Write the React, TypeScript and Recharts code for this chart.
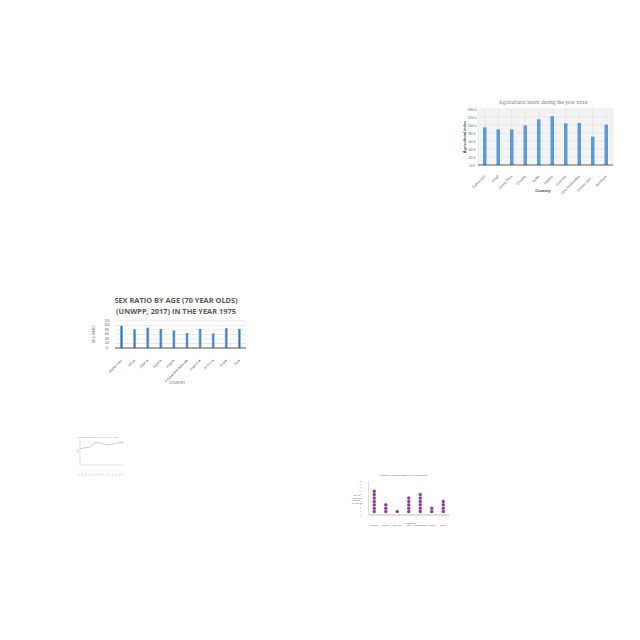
import React from 'react';
import {
  BarChart, Bar, XAxis, YAxis, CartesianGrid, LineChart, Line, ScatterChart, Scatter,
} from 'recharts';

// ---- Chart 1: Agricultural index ----
const agriCountries = ['Cameroon', 'Chad', 'Costa Rica', 'Croatia', 'Cuba', 'Cyprus', 'Czechia', 'Czechoslovakia', 'Democratic...', 'Denmark'];
const agriValues = [94, 89, 89, 99, 114, 122, 104, 105, 71, 101];
const agriTicks = [0, 20, 40, 60, 80, 100, 120, 140];

// ---- Chart 2: Sex ratio ----
const sexCountries = ['Afghanistan', 'Africa', 'Albania', 'Algeria', 'Angola', 'Antigua and Barbuda', 'Argentina', 'Armenia', 'Aruba', 'Asia'];
const sexValues = [98, 83, 91, 85, 78, 67, 85, 65, 88, 85];
const sexTicks = [0, 20, 40, 60, 80, 100, 120];

// ---- Chart 3: small line chart ----
const lineLabels = ['1961', '1965', '1969', '1973', '1977', '1981', '1985', '1989', '1993', '1997', '2001', '2005', '2009', '2013'];
const lineValues = [63, 65, 67, 69, 80, 87, 85, 80, 78, 80, 82, 85, 87, 88];

// ---- Chart 4: dot plot ----
const dotPlaces = ['Mussoorie', 'Nainital', 'Darjeeling', 'Ooty', 'Mahabaleshwar', 'Munnar', 'Shimla'];
const dotCounts = [7, 3, 1, 5, 6, 2, 4];
const dotTicks = [0, 1, 2, 3, 4, 5, 6, 7, 8, 9, 10];

const agriData = agriCountries.map((c, i) => ({ name: c, value: agriValues[i] }));
const sexData = sexCountries.map((c, i) => ({ name: c, value: sexValues[i] }));
const lineData = lineLabels.map((l, i) => ({ name: l, value: lineValues[i] }));
const dotData: { x: number; y: number }[] = [];
dotCounts.forEach((n, i) => {
  for (let k = 1; k <= n; k++) dotData.push({ x: i, y: k });
});

type TxtProps = {
  x: number; y: number; size: number; color?: string; weight?: number | string;
  family?: string; rotate?: number; children: React.ReactNode; lineHeight?: number;
};
const Txt = ({ x, y, size, color = '#595959', weight = 400, family = 'Liberation Sans, Arial, sans-serif', rotate = 0, children, lineHeight }: TxtProps) => (
  <div
    style={{
      position: 'absolute', left: x, top: y, transform: `translate(-50%, -50%) rotate(${rotate}deg)`,
      fontSize: size, color, fontWeight: weight as any, fontFamily: family, whiteSpace: 'pre', textAlign: 'center',
      lineHeight: lineHeight ? `${lineHeight}px` : 1.15,
    }}
  >
    {children}
  </div>
);

const makeTick = (size: number, color: string, angle: number, dy: number, fmt?: (v: any) => string) => (props: any) => {
  const { x, y, payload } = props;
  const label = fmt ? fmt(payload.value) : String(payload.value);
  return (
    <g transform={`translate(${x},${y + dy})`}>
      <text
        x={0} y={0} fontSize={size} fill={color} fontFamily="Liberation Sans, Arial, sans-serif"
        textAnchor={angle ? 'end' : 'middle'} dominantBaseline={angle ? 'central' : 'hanging'}
        transform={angle ? `rotate(${angle})` : undefined}
      >
        {label}
      </text>
    </g>
  );
};

const Dot = (props: any) => (
  <circle cx={props.cx} cy={props.cy} r={1.5} fill="#8e3a96" stroke="#6a2472" strokeWidth={0.3} />
);

export default function App() {
  return (
    <div style={{ position: 'absolute', left: 0, top: 0, width: 640, height: 640, background: '#ffffff', overflow: 'hidden' }}>
      {/* Chart 1 */}
      <div style={{ position: 'absolute', left: 460, top: 95 }}>
        <BarChart width={160} height={105} data={agriData} margin={{ top: 14, right: 7, left: 8, bottom: 10 }}>
          <CartesianGrid fill="#f3f3f3" stroke="#dcdcdc" strokeWidth={0.5} />
          <XAxis
            dataKey="name" interval={0} height={25} tickLine={false}
            axisLine={{ stroke: '#404040', strokeWidth: 0.8 }}
            tick={makeTick(3.6, '#595959', -45, 3)}
          />
          <YAxis
            width={10} domain={[0, 140]} ticks={agriTicks} interval={0} tickLine={false} axisLine={false}
            tick={makeTick(3.6, '#595959', 0, 0, (v: number) => v.toFixed(1))}
            tickMargin={0}
          />
          <Bar dataKey="value" fill="#5b9bd5" barSize={3.5} isAnimationActive={false} />
        </BarChart>
      </div>
      <Txt x={543} y={101.5} size={5.6} family="Liberation Serif, serif" color="#7f7f7f">Agricultural index during the year xxxx</Txt>
      <Txt x={465} y={137} size={3.8} rotate={-90} color="#404040" weight={700}>Agricultural index</Txt>
      <Txt x={543} y={190.5} size={4} color="#404040" weight={700}>Country</Txt>

      {/* Chart 2 */}
      <div style={{ position: 'absolute', left: 85, top: 315 }}>
        <BarChart width={180} height={75} data={sexData} margin={{ top: 6, right: 19, left: 20, bottom: 4 }}>
          <defs>
            <linearGradient id="sexGrad2" x1="0" y1="0" x2="1" y2="0">
              <stop offset="0%" stopColor="#9dc3e6" />
              <stop offset="50%" stopColor="#2e75b6" />
              <stop offset="100%" stopColor="#9dc3e6" />
            </linearGradient>
          </defs>
          <CartesianGrid vertical={false} stroke="#d9d9d9" strokeWidth={0.6} />
          <XAxis
            dataKey="name" interval={0} height={38} tickLine={false}
            axisLine={{ stroke: '#595959', strokeWidth: 1 }}
            tick={makeTick(3.3, '#595959', -45, 4)}
          />
          <YAxis
            width={10} domain={[0, 120]} ticks={sexTicks} interval={0} tickLine={false} axisLine={false}
            tick={makeTick(3.4, '#595959', 0, -1.7)}
          />
          <Bar dataKey="value" fill="url(#sexGrad2)" barSize={3} isAnimationActive={false} />
        </BarChart>
      </div>
      <Txt x={176} y={300} size={7.4} weight={700} family="Open Sans, sans-serif" color="#595959">SEX RATIO BY AGE (70 YEAR OLDS)</Txt>
      <Txt x={176} y={311} size={7.4} weight={700} family="Open Sans, sans-serif" color="#595959">(UNWPP, 2017) IN THE YEAR 1975</Txt>
      <Txt x={95} y={334} size={3.4} rotate={-90} color="#595959">SEX RATIO</Txt>
      <Txt x={177} y={384} size={3.4} color="#595959">COUNTRY</Txt>

      {/* Chart 3 */}
      <div style={{ position: 'absolute', left: 75, top: 430 }}>
        <LineChart width={55} height={46} data={lineData} margin={{ top: 9, right: 6, left: 3, bottom: 6 }}>
          <XAxis
            dataKey="name" interval={0} height={5} tickLine={false}
            axisLine={{ stroke: '#bfbfbf', strokeWidth: 0.5 }}
            tick={makeTick(1.3, '#8c8c8c', -45, 0.6)}
          />
          <YAxis
            width={2} domain={[0, 100]} tick={false} tickLine={false}
            axisLine={{ stroke: '#bfbfbf', strokeWidth: 0.5 }}
          />
          <Line dataKey="value" stroke="#a6a6a6" strokeWidth={0.6} dot={false} isAnimationActive={false} />
        </LineChart>
      </div>
      <Txt x={98} y={436.5} size={2.2} color="#8c8c8c">Livestock production index over the years</Txt>
      <Txt x={77.5} y={451} size={1.6} rotate={-90} color="#8c8c8c">Index</Txt>

      {/* Chart 4 */}
      <div style={{ position: 'absolute', left: 345, top: 470 }}>
        <ScatterChart width={115} height={60} margin={{ top: 11, right: 11, left: 19.5, bottom: 6 }}>
          <XAxis
            type="number" dataKey="x" domain={[-0.5, 6.5]} ticks={[0, 1, 2, 3, 4, 5, 6]} interval={0}
            height={9} tickLine={false}
            axisLine={{ stroke: '#7f7f7f', strokeWidth: 0.5 }}
            tick={makeTick(1.9, '#595959', 0, 1, (v: number) => dotPlaces[v] ?? '')}
          />
          <YAxis
            type="number" dataKey="y" domain={[0, 10]} ticks={dotTicks} interval={0} width={4} tickLine={false}
            axisLine={{ stroke: '#bfbfbf', strokeWidth: 0.5 }}
            tick={makeTick(1.8, '#595959', 0, -0.9)}
          />
          <Scatter data={dotData} shape={<Dot />} isAnimationActive={false} />
        </ScatterChart>
      </div>
      <Txt x={404} y={476} size={2.4} color="#595959">Number of Tourists visited in December 2015</Txt>
      <Txt x={357} y={499} size={2.2} color="#595959" lineHeight={2.7}>{'No. of\nTourists\nvisited\n(in millions)'}</Txt>
      <Txt x={410} y={523} size={2.2} color="#595959">Hill Stations</Txt>
    </div>
  );
}
